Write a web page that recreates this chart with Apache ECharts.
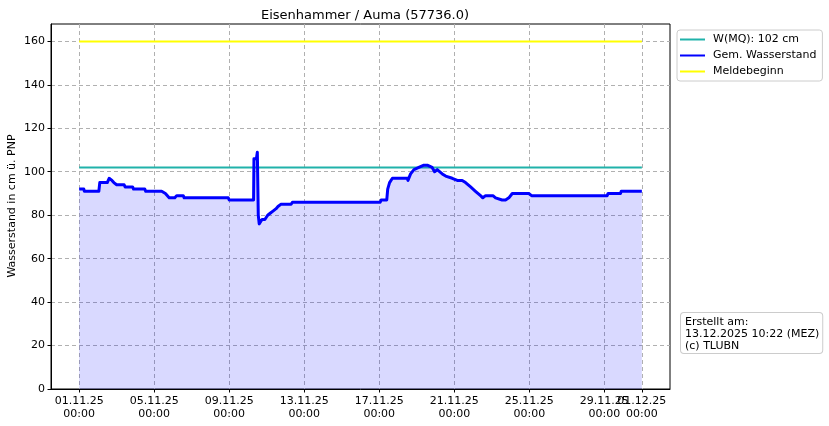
<!DOCTYPE html>
<html>
<head>
<meta charset="utf-8">
<script src="https://cdn.jsdelivr.net/npm/echarts@6/dist/echarts.min.js"></script>
<style>html,body{margin:0;padding:0;background:#fff;}#c{width:829px;height:426px;}</style>
</head>
<body>
<div id="c"></div>
<script>
// Days since 01.11.25 00:00
const levelDays = [0,0.25,0.28,1.05,1.1,1.5,1.6,1.75,1.85,2.0,2.4,2.45,2.85,2.9,3.5,3.55,4.4,4.6,4.8,5.1,5.2,5.55,5.6,7.95,8.0,9.3,9.32,9.45,9.5,9.55,9.6,9.75,9.9,10.05,10.2,10.35,10.5,10.6,10.75,11.3,11.37,16.05,16.1,16.4,16.45,16.55,16.7,17.5,17.53,17.67,17.85,18.11,18.38,18.56,18.82,18.95,19.09,19.18,19.36,19.54,19.89,20.16,20.42,20.6,20.87,21.13,21.4,21.52,21.67,22.06,22.2,22.55,22.73,22.91,23.09,23.97,24.12,28.15,28.2,28.86,28.9,30];
const levelValues = [92,92,91,91,95,95,97,96,95,94,94,93,93,92,92,91,91,90,88,88,89,89,88,88,87,87,106,106,109,80,76,78,78,80,81,82,83,84,85,85,86,86,87,87,92,95,97,97,96,99,101,102,103,103,102,100,101,101,99,98,97,96,96,95,93,91,89,88,89,89,88,87,87,88,90,90,89,89,90,90,91,91];
const mqDays = [0,30];
const mqValues = [102,102];
const meldeDays = [0,30];
const meldeValues = [160,160];
const xTickDays = [0,4,8,12,16,20,24,28,30];
const xTickLabels = ['01.11.25\n00:00','05.11.25\n00:00','09.11.25\n00:00','13.11.25\n00:00','17.11.25\n00:00','21.11.25\n00:00','25.11.25\n00:00','29.11.25\n00:00','01.12.25\n00:00'];
const yTicks = [0,20,40,60,80,100,120,140,160];
const yAxisTitle = 'Wasserstand in cm ü. PNP';

const FONT = 'DejaVu Sans';
const zip = (a,b) => a.map((v,i)=>[v,b[i]]);
// labels split over two axes so that the overlapping pair (29.11 / 01.12) both stay visible
const xLabelsA = xTickDays.filter((d,i)=>i%2===0);
const xLabelsB = xTickDays.filter((d,i)=>i%2===1);
const fmt = (v)=>{const i=xTickDays.indexOf(Math.round(v*1000)/1000);return i>=0?xTickLabels[i]:'';};
const labelStyle = {hideOverlap:false,margin:6,fontFamily:FONT,fontSize:11,color:'#000',lineHeight:13,formatter:fmt};

const chart = echarts.init(document.getElementById('c'), null, {renderer:'canvas'});
chart.setOption({
  animation:false,
  backgroundColor:'#fff',
  textStyle:{fontFamily:FONT},
  title:{text:'Eisenhammer / Auma (57736.0)', left:360, top:4, textAlign:'center',
    textStyle:{fontFamily:FONT,fontSize:13,fontWeight:'normal',color:'#000'}},
  grid:{left:51, top:24, width:619, height:365, containLabel:false, outerBoundsMode:'none',
    show:true, borderColor:'#000', borderWidth:1, backgroundColor:'transparent'},
  legend:{orient:'vertical', left:677, top:30, itemWidth:25, itemHeight:2, itemGap:3, icon:'rect',
    padding:[3,6,3,3], borderColor:'#ccc', borderWidth:1, borderRadius:3, backgroundColor:'#fff',
    textStyle:{fontFamily:FONT,fontSize:11,color:'#000',lineHeight:13,padding:[0,0,0,3]},
    data:['W(MQ): 102 cm','Gem. Wasserstand','Meldebeginn']},
  xAxis:[{type:'value', min:-1.5, max:31.5, position:'bottom',
    axisLine:{show:true,onZero:false,lineStyle:{color:'#000',width:1}},
    axisTick:{show:true,inside:false,length:3.5,lineStyle:{color:'#000'},customValues:xTickDays},
    axisLabel:Object.assign({customValues:xLabelsA},labelStyle),
    splitLine:{show:true,lineStyle:{color:'#b0b0b0',type:[4,3],width:1}}},
   {type:'value', min:-1.5, max:31.5, position:'bottom', offset:0,
    axisLine:{show:false,onZero:false}, axisTick:{show:false}, splitLine:{show:false},
    axisLabel:Object.assign({customValues:xLabelsB},labelStyle)}],
  yAxis:{type:'value', min:0, max:168,
    axisLine:{show:true,onZero:false,lineStyle:{color:'#000',width:1}},
    axisTick:{show:true,inside:false,length:3.5,lineStyle:{color:'#000'},customValues:yTicks},
    axisLabel:{customValues:yTicks,hideOverlap:false,margin:6,fontFamily:FONT,fontSize:11,color:'#000'},
    splitLine:{show:true,lineStyle:{color:'#b0b0b0',type:[4,3],width:1}}},
  series:[
    {name:'W(MQ): 102 cm', type:'line', data:zip(mqDays,mqValues), symbol:'none',
      lineStyle:{color:'#20b2aa',width:2}, itemStyle:{color:'#20b2aa'}, z:3},
    {name:'Gem. Wasserstand', type:'line', data:zip(levelDays,levelValues), symbol:'none',
      lineStyle:{color:'#0000ff',width:3, join:'round'}, itemStyle:{color:'#0000ff'},
      areaStyle:{color:'rgba(0,0,255,0.15)', opacity:1, origin:'start'}, z:4},
    {name:'Meldebeginn', type:'line', data:zip(meldeDays,meldeValues), symbol:'none',
      lineStyle:{color:'#ffff00',width:2}, itemStyle:{color:'#ffff00'}, z:5}
  ],
  graphic:[
    {type:'text', x:12, y:206, rotation:Math.PI/2, z:100,
      style:{text:yAxisTitle, font:'11px "DejaVu Sans"', fill:'#000', align:'center', verticalAlign:'middle'}},
    {type:'text', left:680, top:312, z:100,
      style:{text:'Erstellt am:\n13.12.2025 10:22 (MEZ)\n(c) TLUBN', font:'11px "DejaVu Sans"', fill:'#000',
        lineHeight:12, backgroundColor:'#fff', borderColor:'#ccc', borderWidth:1, borderRadius:3, padding:[3,3,1,4]}}]
});
</script>
</body>
</html>
